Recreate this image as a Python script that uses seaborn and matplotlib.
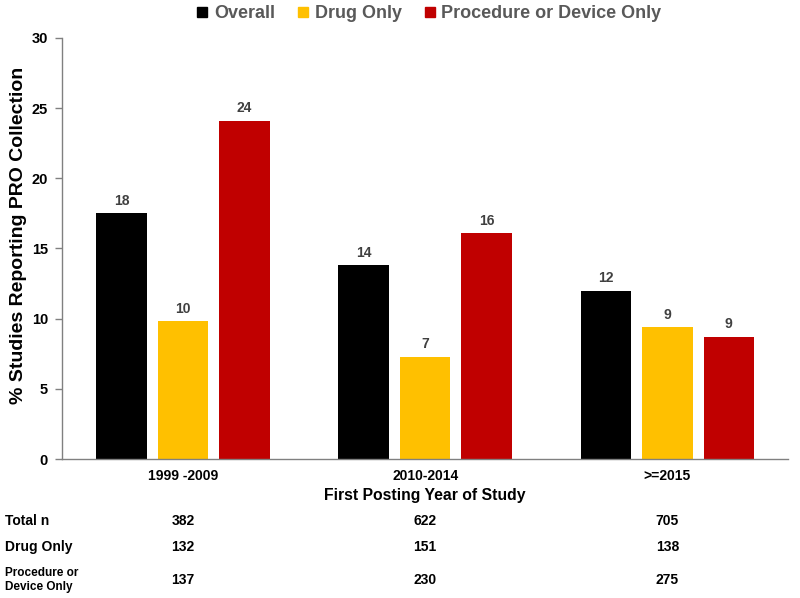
import matplotlib
matplotlib.use("Agg")
import matplotlib.pyplot as plt
import seaborn as sns
import pandas as pd
from matplotlib.lines import Line2D

periods = ["1999 -2009", "2010-2014", ">=2015"]
series = ["Overall", "Drug Only", "Procedure or Device Only"]
overall = [17.5, 13.8, 12.0]
drug_only = [9.8, 7.3, 9.4]
proc_device = [24.1, 16.1, 8.7]
labels_overall = ["18", "14", "12"]
labels_drug = ["10", "7", "9"]
labels_proc = ["24", "16", "9"]
table_rows = ["Total n", "Drug Only", "Procedure or\nDevice Only"]
total_n = [382, 622, 705]
drug_n = [132, 151, 138]
proc_n = [137, 230, 275]
colors = ["#000000", "#FFC000", "#C00000"]

df = pd.DataFrame({
    "period": periods * 3,
    "series": [s for s in series for _ in periods],
    "value": overall + drug_only + proc_device,
})

sns.set_theme(style="white")
plt.rcParams["font.family"] = ["Liberation Sans", "DejaVu Sans"]
plt.rcParams["font.weight"] = "bold"

fig = plt.figure(figsize=(8, 5.98), dpi=100)
ax = fig.add_axes([0.0775, 0.2324, 0.908, 0.7041])

sns.barplot(data=df, x="period", y="value", hue="series", order=periods,
            hue_order=series, palette=colors, width=0.762, gap=0.18,
            ax=ax, legend=False, saturation=1, edgecolor="none")

all_labels = [labels_overall, labels_drug, labels_proc]
for cont, labs in zip(ax.containers, all_labels):
    ax.bar_label(cont, labels=labs, padding=4, fontsize=10, color="#404040",
                 fontweight="bold")

ax.set_ylim(0, 30)
ax.set_xlim(-0.5, 2.5)
ax.set_yticks(range(0, 31, 5))
ax.tick_params(axis="y", length=5, width=1, color="#808080", labelsize=10.5,
               labelcolor="#000000", left=True, pad=5)
ax.tick_params(axis="x", length=0, labelsize=10, labelcolor="#000000", pad=7.5)
for lab in ax.get_xticklabels() + ax.get_yticklabels():
    lab.set_fontweight("bold")
ax.set_ylabel("% Studies Reporting PRO Collection", fontsize=14,
              fontweight="bold", color="#000000")
ax.yaxis.set_label_coords(-0.048, 0.532)
ax.set_xlabel("First Posting Year of Study", fontsize=11.3, fontweight="bold",
              color="#000000", labelpad=3)
for s in ["top", "right"]:
    ax.spines[s].set_visible(False)
for s in ["left", "bottom"]:
    ax.spines[s].set_color("#808080")
    ax.spines[s].set_linewidth(1)

# Legend
handles = [Line2D([0], [0], marker="s", linestyle="none", markersize=6.5,
                  markerfacecolor=c, markeredgecolor=c) for c in colors]
fig.legend(handles, series, loc="upper center", bbox_to_anchor=(0.536, 1.018),
           ncol=3, frameon=False, handletextpad=0.3, handlelength=0.7,
           columnspacing=1.2, labelcolor="#595959",
           prop={"weight": "bold", "size": 13})

# Table below
row_y = [521, 547, 580]
for label, vals, yp in zip(table_rows, [total_n, drug_n, proc_n], row_y):
    yf = 1 - yp / 598
    fig.text(5 / 800, yf, label, ha="left", va="center",
             fontsize=10 if "\n" not in label else 8.5,
             fontweight="bold", color="#000000", linespacing=1.2)
    for i, v in enumerate(vals):
        xd = ax.transData.transform((i, 0))[0]
        xf = fig.transFigure.inverted().transform((xd, 0))[0]
        fig.text(xf, yf, str(v), ha="center", va="center", fontsize=10,
                 fontweight="bold", color="#000000")

fig.savefig("out.png", dpi=100, facecolor="white")
